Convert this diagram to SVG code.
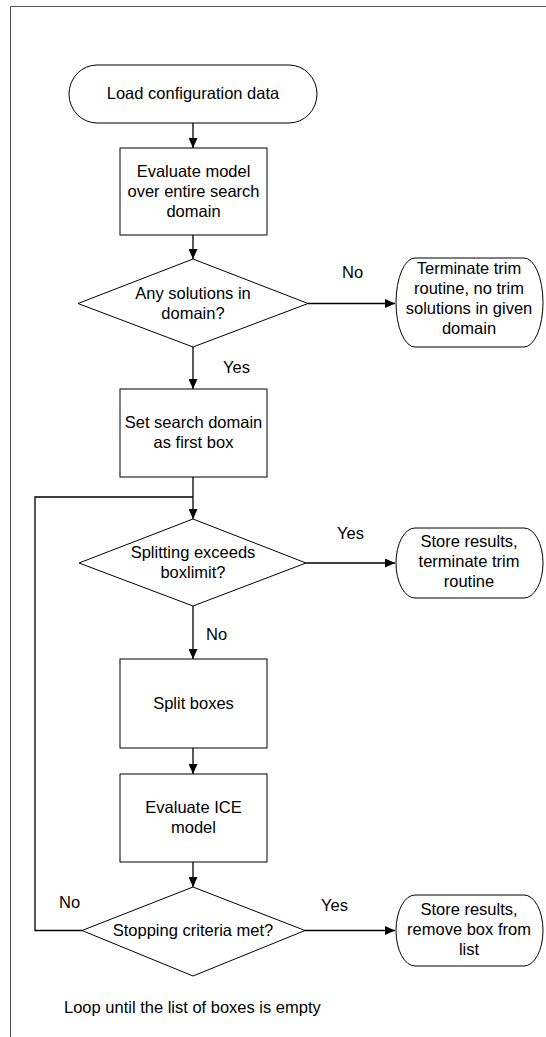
<svg xmlns="http://www.w3.org/2000/svg" width="546" height="1037" viewBox="0 0 546 1037">
<style>
.shape{fill:#fff;stroke:#000;stroke-width:1}
.t{font-family:"Liberation Sans",Arial,sans-serif;font-size:16.5px;fill:#000}
.c{text-anchor:middle}
.ln{fill:none;stroke:#000;stroke-width:1.3}
</style>
<defs>
<marker id="ah" markerUnits="userSpaceOnUse" markerWidth="11" markerHeight="9" refX="10" refY="4.5" orient="auto">
<path d="M0,0 L10,4.5 L0,9 Z" fill="#000"/>
</marker>
</defs>
<rect width="546" height="1037" fill="#fff"/>
<path d="M10.5,1037 V6.5 H546" fill="none" stroke="#555" stroke-width="1"/>

<g id="connectors">
<line class="ln" x1="193" y1="123" x2="193" y2="148" marker-end="url(#ah)"/>
<line class="ln" x1="193" y1="235" x2="193" y2="259" marker-end="url(#ah)"/>
<line class="ln" x1="193" y1="347" x2="193" y2="389" marker-end="url(#ah)"/>
<line class="ln" x1="308" y1="303.5" x2="395" y2="303.5" marker-end="url(#ah)"/>
<line class="ln" x1="193" y1="477" x2="193" y2="519" marker-end="url(#ah)"/>
<line class="ln" x1="306" y1="563" x2="395" y2="563" marker-end="url(#ah)"/>
<line class="ln" x1="193" y1="606" x2="193" y2="659" marker-end="url(#ah)"/>
<line class="ln" x1="193" y1="748" x2="193" y2="774" marker-end="url(#ah)"/>
<line class="ln" x1="193" y1="862" x2="193" y2="887" marker-end="url(#ah)"/>
<line class="ln" x1="305" y1="930.5" x2="395" y2="930.5" marker-end="url(#ah)"/>
<polyline class="ln" points="82,930.5 35,930.5 35,497 193,497"/>
<text class="t" x="342" y="278">No</text>
<text class="t" x="223" y="373">Yes</text>
<text class="t" x="337" y="539">Yes</text>
<text class="t" x="206" y="640">No</text>
<text class="t" x="59" y="908">No</text>
<text class="t" x="321" y="911">Yes</text>
</g>

<g id="start">
<path class="shape" d="M97,65 H289 A28,29 0 0 1 289,123 H97 A28,29 0 0 1 97,65 Z"/>
<text class="t c" x="193" y="99">Load configuration data</text>
</g>

<g id="evaluate-model">
<rect class="shape" x="120" y="148" width="147" height="87"/>
<text class="t c" x="193.5" y="177">Evaluate model</text>
<text class="t c" x="193.5" y="197">over entire search</text>
<text class="t c" x="193.5" y="217">domain</text>
</g>

<g id="any-solutions">
<polygon class="shape" points="193,259 308,303.5 193,347 78,303.5"/>
<text class="t c" x="193" y="299">Any solutions in</text>
<text class="t c" x="193" y="319">domain?</text>
</g>

<g id="terminate-no-solutions">
<path class="shape" d="M415,258 H524 A19,44.5 0 0 1 524,347 H415 A19,44.5 0 0 1 415,258 Z"/>
<text class="t c" x="469" y="274">Terminate trim</text>
<text class="t c" x="469" y="294">routine, no trim</text>
<text class="t c" x="469" y="314">solutions in given</text>
<text class="t c" x="469" y="334">domain</text>
</g>

<g id="set-search-domain">
<rect class="shape" x="120" y="389" width="147" height="88"/>
<text class="t c" x="193.5" y="428">Set search domain</text>
<text class="t c" x="193.5" y="448">as first box</text>
</g>

<g id="splitting-exceeds">
<polygon class="shape" points="193,519 306,563 193,606 79,563"/>
<text class="t c" x="193" y="558">Splitting exceeds</text>
<text class="t c" x="193" y="578">boxlimit?</text>
</g>

<g id="store-terminate">
<path class="shape" d="M415,528 H524 A19,35 0 0 1 524,598 H415 A19,35 0 0 1 415,528 Z"/>
<text class="t c" x="469" y="547">Store results,</text>
<text class="t c" x="469" y="567">terminate trim</text>
<text class="t c" x="469" y="587">routine</text>
</g>

<g id="split-boxes">
<rect class="shape" x="120" y="659" width="147" height="89"/>
<text class="t c" x="193.5" y="709">Split boxes</text>
</g>

<g id="evaluate-ice">
<rect class="shape" x="120" y="774" width="147" height="88"/>
<text class="t c" x="193.5" y="813">Evaluate ICE</text>
<text class="t c" x="193.5" y="833">model</text>
</g>

<g id="stopping-criteria">
<polygon class="shape" points="193,887 305,930.5 193,976 82,930.5"/>
<text class="t c" x="193" y="936">Stopping criteria met?</text>
</g>

<g id="store-remove">
<path class="shape" d="M415,895 H524 A19,35.5 0 0 1 524,966 H415 A19,35.5 0 0 1 415,895 Z"/>
<text class="t c" x="469" y="915">Store results,</text>
<text class="t c" x="469" y="935">remove box from</text>
<text class="t c" x="469" y="955">list</text>
</g>

<g id="note">
<text class="t" x="64" y="1013">Loop until the list of boxes is empty</text>
</g>
</svg>
